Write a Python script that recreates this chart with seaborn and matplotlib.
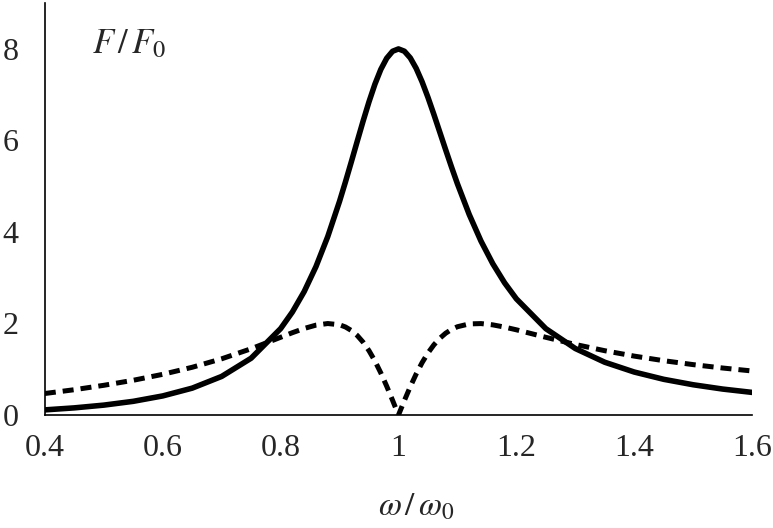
import numpy as np
import pandas as pd
import matplotlib
matplotlib.use("Agg")
import matplotlib.pyplot as plt
import seaborn as sns

# values
freq = [0.40, 0.45, 0.50, 0.55, 0.60, 0.65, 0.70, 0.75, 0.80, 0.82, 0.84, 0.86,
        0.88, 0.90, 0.91, 0.92, 0.93, 0.94, 0.95, 0.96, 0.97, 0.98, 0.99, 1.00,
        1.01, 1.02, 1.03, 1.04, 1.05, 1.06, 1.07, 1.08, 1.09, 1.10, 1.12, 1.14,
        1.16, 1.18, 1.20, 1.25, 1.30, 1.35, 1.40, 1.45, 1.50, 1.55, 1.60]
solid = [0.112, 0.156, 0.216, 0.299, 0.417, 0.587, 0.843, 1.241, 1.887, 2.251, 2.697, 3.243,
         3.899, 4.670, 5.093, 5.533, 5.981, 6.424, 6.846, 7.229, 7.552, 7.796, 7.949, 8.000,
         7.950, 7.804, 7.576, 7.283, 6.942, 6.571, 6.185, 5.798, 5.418, 5.053, 4.382, 3.800,
         3.306, 2.889, 2.539, 1.887, 1.453, 1.153, 0.939, 0.780, 0.661, 0.567, 0.494]
dashed = [0.470, 0.553, 0.649, 0.759, 0.889, 1.043, 1.228, 1.448, 1.698, 1.799, 1.891, 1.964,
          1.999, 1.972, 1.924, 1.847, 1.738, 1.591, 1.405, 1.181, 0.920, 0.630, 0.320, 0.000,
          0.316, 0.618, 0.896, 1.143, 1.355, 1.532, 1.675, 1.787, 1.870, 1.929, 1.991, 1.998,
          1.970, 1.921, 1.862, 1.698, 1.542, 1.405, 1.287, 1.187, 1.101, 1.027, 0.962]
x_ticks = [0.4, 0.6, 0.8, 1.0, 1.2, 1.4, 1.6]
x_tick_labels = ["0.4", "0.6", "0.8", "1", "1.2", "1.4", "1.6"]
y_ticks = [0, 2, 4, 6, 8]

df = pd.DataFrame({"w": freq, "solid": solid, "dashed": dashed})

sns.set_style("white")
plt.rcParams["font.family"] = ["Liberation Serif", "DejaVu Serif"]
plt.rcParams["mathtext.fontset"] = "stix"

fig = plt.figure(figsize=(7.73, 5.28), dpi=100)
ax = fig.add_axes([0.058, 0.214, 0.915, 0.78])

sns.lineplot(data=df, x="w", y="solid", ax=ax, color="black", lw=4.0)
sns.lineplot(data=df, x="w", y="dashed", ax=ax, color="black", lw=3.6,
             dashes=False)
ax.lines[-1].set_dashes([2.2, 1.4])
for ln in ax.lines:
    ln.set_solid_joinstyle("round")

ax.set_xlim(0.4, 1.6)
ax.set_ylim(0, 9)
ax.set_xticks(x_ticks)
ax.set_xticklabels(x_tick_labels)
ax.set_yticks(y_ticks)
ax.set_xlabel("")
ax.set_ylabel("")
sns.despine(ax=ax)
for s in ["left", "bottom"]:
    ax.spines[s].set_color("black")
    ax.spines[s].set_linewidth(1.2)
ax.tick_params(axis="both", direction="out", length=5, width=1.2,
               color="black", labelsize=23)
ax.tick_params(axis="x", pad=9)
ax.tick_params(axis="y", pad=14)

ax.text(0.48, 8.1, r"$F\,/\,F_0$", fontsize=25, va="center", ha="left")
fig.text(416 / 773, 1 - 507 / 528, r"$\omega\,/\,\omega_0$", fontsize=24,
         ha="center", va="center")

fig.savefig("out.png", dpi=100)
